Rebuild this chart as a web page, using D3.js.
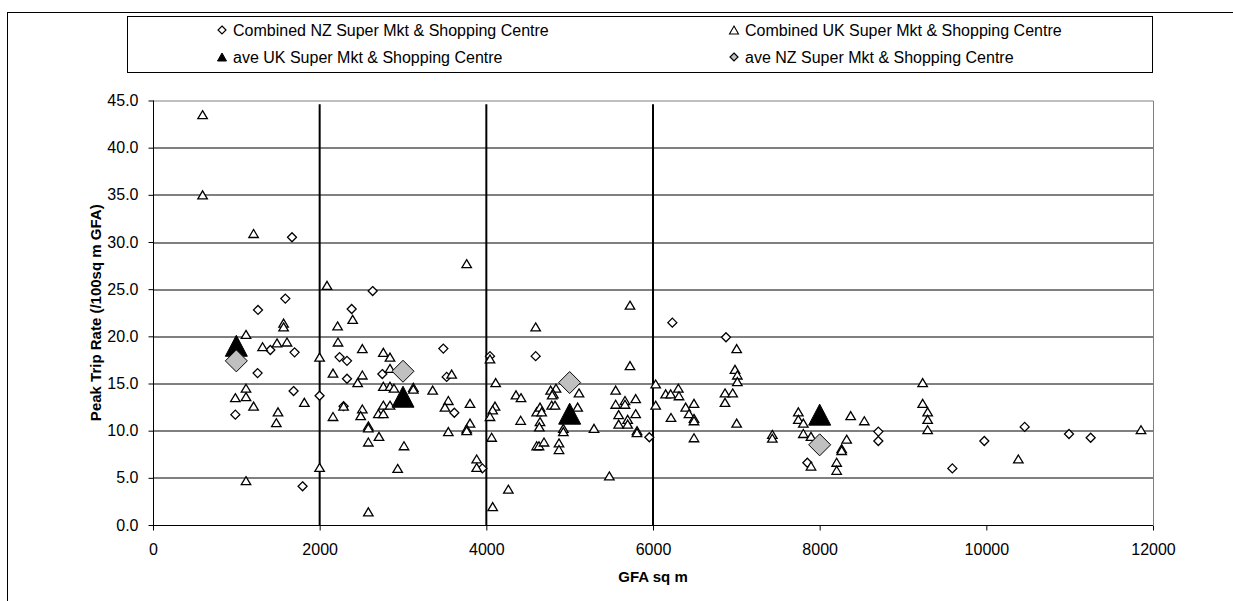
<!DOCTYPE html>
<html>
<head>
<meta charset="utf-8">
<script src="https://cdn.jsdelivr.net/npm/d3@7"></script>
<style>
  body { margin: 0; background: #fff; }
  text { font-family: "Liberation Sans", Arial, sans-serif; }
</style>
</head>
<body>
<div id="chart"></div>
<script>
'use strict'

// combined NZ super mkt & shopping centre (GFA sq m, trips /100sq m)
var nzX = [1668, 1588, 1260, 1408, 1699, 2239, 2328, 1255, 2328, 988, 1687, 1999, 2287, 1795,
  2636, 2384, 3484, 4044, 4592, 2752, 3524, 3616, 3952, 6232, 5956, 6876, 7852, 8704, 8704,
  9592, 9976, 10460, 10992, 11252]
var nzY = [30.5, 24.0, 22.8, 18.55, 18.3, 17.8, 17.4, 16.1, 15.5, 11.7, 14.2, 13.7, 12.6, 4.1,
  24.8, 22.9, 18.7, 17.9, 17.9, 16.0, 15.7, 11.9, 6.0, 21.45, 9.3, 19.9, 6.6, 9.9, 8.9,
  6.0, 8.9, 10.4, 9.65, 9.25]

// combined UK super mkt & shopping centre
var ukX = [595, 595, 1207, 2088, 1567, 1567, 2215, 1116, 1315, 1488, 1608, 1999, 2220, 2160,
  1116, 988, 1116, 1207, 1816, 1500, 1480, 2287, 2160, 1999, 1116,
  3764, 2396, 4592, 2512, 2764, 2844, 4044, 2844, 2512, 2456, 3584, 4112, 2764, 2844, 2892,
  3124, 3124, 3356, 4356, 4416, 2512, 2492, 2764, 2704, 2764, 2844, 3544, 3504, 3804, 4104,
  4076, 4044, 4412, 4604, 2584, 2584, 2584, 2712, 3012, 3544, 3804, 3764, 3764, 4064, 4604,
  2936, 3884, 3884, 4264, 4076, 2584,
  5724, 5724, 4772, 4836, 4804, 4790, 5112, 5552, 6032, 6152, 6212, 6304, 6312, 4784, 4824,
  4644, 4664, 4644, 4636, 5096, 4924, 4924, 5292, 5552, 5664, 5664, 5792, 5588, 5792, 5696,
  5588, 5696, 5808, 5808, 6032, 6216, 6392, 6492, 6432, 6492, 6492, 6492, 4632, 4692, 4872,
  4872, 5476,
  7004, 6984, 7012, 7012, 6864, 6956, 6864, 7004, 7432, 7432, 7744, 7744, 7804, 7804, 7896,
  7896, 8324, 8264, 8264, 8204, 8204, 8372, 8536, 9236, 9236, 9296, 9296, 9296, 10384, 11856]
var ukY = [43.5, 35.0, 30.9, 25.4, 21.4, 21.0, 21.1, 20.2, 18.9, 19.3, 19.4, 17.8, 19.4, 16.1,
  14.5, 13.5, 13.6, 12.6, 13.0, 12.0, 10.85, 12.6, 11.5, 6.1, 4.7,
  27.7, 21.8, 21.0, 18.7, 18.3, 17.8, 17.6, 16.6, 15.9, 15.1, 16.0, 15.1, 14.7, 14.7, 14.5,
  14.6, 14.4, 14.3, 13.8, 13.5, 12.3, 11.6, 12.7, 11.8, 11.8, 12.7, 13.2, 12.5, 12.9, 12.6,
  12.2, 11.5, 11.1, 12.0, 10.5, 10.3, 8.8, 9.4, 8.4, 9.9, 10.8, 10.2, 10.0, 9.3, 8.4,
  6.0, 7.0, 6.1, 3.8, 1.95, 1.4,
  23.3, 16.9, 14.3, 14.5, 13.9, 13.8, 14.0, 14.3, 14.95, 13.9, 13.9, 14.5, 13.7, 12.7, 12.7,
  12.5, 12.0, 10.95, 10.4, 12.5, 10.25, 9.9, 10.25, 12.8, 13.2, 12.8, 13.4, 11.7, 11.8, 11.2,
  10.7, 10.7, 10.0, 9.8, 12.7, 11.4, 12.5, 12.9, 11.8, 11.3, 11.05, 9.25, 8.4, 8.8, 8.7,
  8.0, 5.2,
  18.7, 16.5, 15.9, 15.2, 14.0, 14.0, 13.0, 10.8, 9.6, 9.2, 12.0, 11.2, 10.8, 9.7, 9.4,
  6.25, 9.1, 8.1, 7.9, 6.65, 5.8, 11.6, 11.05, 15.1, 12.9, 12.0, 11.2, 10.1, 7.0, 10.1]

// band averages
var aveUkX = [1000, 3000, 5000, 8000]
var aveUkY = [19.0, 13.6, 11.8, 11.7]
var aveNzX = [1000, 3000, 5000, 8000]
var aveNzY = [17.4, 16.3, 15.1, 8.5]

// GFA band dividers
var dividers = [2000, 4000, 6000]

var xTicks = [0, 2000, 4000, 6000, 8000, 10000, 12000]
var yTicks = [0, 5, 10, 15, 20, 25, 30, 35, 40, 45]

var legendLabels = ['Combined NZ Super Mkt & Shopping Centre', 'Combined UK Super Mkt & Shopping Centre',
  'ave UK Super Mkt & Shopping Centre', 'ave NZ Super Mkt & Shopping Centre']

////////////////////////////////////
//////////// svg setup /////////////
////////////////////////////////////

var svgWidth = 1233
var svgHeight = 601

var margin = { left: 153, right: 80, top: 100.5, bottom: 76 }
const width = svgWidth - margin.left - margin.right
const height = svgHeight - margin.top - margin.bottom

const root = d3.select('#chart').append('svg')
  .attr('width', svgWidth)
  .attr('height', svgHeight)

// outer chart frame
root.append('rect')
  .attr('x', 7.5).attr('y', 12.5)
  .attr('width', 1230).attr('height', 600)
  .attr('fill', 'none').attr('stroke', '#000')

const svg = root.append('g')
  .attr('transform', 'translate(' + margin.left + ',' + margin.top + ')')

////////////////////////////////////
//////////////scales////////////////
////////////////////////////////////

var xScale = d3.scaleLinear().domain([0, 12000]).range([0, width])
var yScale = d3.scaleLinear().domain([0, 45]).range([height, 0])

// gridlines
svg.append('g')
  .selectAll('line')
  .data(yTicks.filter(function(d) { return d > 0 && d < 45 }))
  .enter()
  .append('line')
  .attr('x1', 0).attr('x2', width)
  .attr('y1', function(d) { return Math.round(yScale(d)) + 0.5 })
  .attr('y2', function(d) { return Math.round(yScale(d)) + 0.5 })
  .attr('stroke', '#000')

// plot area border (top / right)
svg.append('path')
  .attr('d', 'M0,' + (Math.round(yScale(45)) + 0.5) + 'H' + (Math.round(width) + 0.5) + 'V' + height)
  .attr('fill', 'none').attr('stroke', '#808080')

// band dividers
svg.append('g')
  .selectAll('line')
  .data(dividers)
  .enter()
  .append('line')
  .attr('x1', function(d) { return xScale(d) })
  .attr('x2', function(d) { return xScale(d) })
  .attr('y1', yScale(0))
  .attr('y2', yScale(44.6))
  .attr('stroke', '#000')
  .attr('stroke-width', 2)

// axes
var yAxis = svg.append('g')
  .attr('transform', 'translate(0.5,0)')
  .call(d3.axisLeft(yScale).tickValues(yTicks).tickSize(5).tickPadding(10)
    .tickFormat(function(d) { return d3.format('.1f')(d) }))
var xAxis = svg.append('g')
  .attr('transform', 'translate(0,' + (height + 0.5) + ')')
  .call(d3.axisBottom(xScale).tickValues(xTicks).tickSize(5).tickPadding(13)
    .tickFormat(function(d) { return d }))

yAxis.selectAll('.domain').attr('d', 'M0,0V' + height).attr('stroke', '#000')
xAxis.selectAll('.domain').attr('d', 'M0,0H' + width).attr('stroke', '#000')
root.selectAll('.tick line').attr('stroke', '#000')
root.selectAll('.tick text').attr('font-size', 16).attr('fill', '#000')
  .attr('font-family', '"Liberation Sans", Arial, sans-serif')

// axis titles
svg.append('text')
  .attr('x', width / 2)
  .attr('y', height + 57)
  .attr('text-anchor', 'middle')
  .attr('font-size', 15).attr('font-weight', 'bold')
  .text('GFA sq m')

svg.append('text')
  .attr('transform', 'translate(' + (-52) + ',' + (height / 2) + ') rotate(-90)')
  .attr('text-anchor', 'middle')
  .attr('font-size', 15).attr('font-weight', 'bold')
  .text('Peak Trip Rate (/100sq m GFA)')

////////////////////////////////////
//////////////markers///////////////
////////////////////////////////////

function tri(w, h) {
  return 'M0,' + (-h / 2) + 'L' + (w / 2) + ',' + (h / 2) + 'L' + (-w / 2) + ',' + (h / 2) + 'Z'
}
function diamond(r) {
  return 'M0,' + (-r) + 'L' + r + ',0L0,' + r + 'L' + (-r) + ',0Z'
}

function plot(xs, ys, d, fill, stroke, sw) {
  svg.append('g')
    .selectAll('path')
    .data(xs.map(function(x, i) { return [x, ys[i]] }))
    .enter()
    .append('path')
    .attr('d', d)
    .attr('transform', function(p) { return 'translate(' + xScale(p[0]) + ',' + yScale(p[1]) + ')' })
    .attr('fill', fill)
    .attr('stroke', stroke)
    .attr('stroke-width', sw)
}

plot(nzX, nzY, diamond(4.5), '#fff', '#000', 1.3)
plot(ukX, ukY, tri(9.5, 8), '#fff', '#000', 1.3)
plot(aveUkX, aveUkY, tri(22, 21), '#000', '#000', 1)
plot(aveNzX, aveNzY, diamond(11), '#c0c0c0', '#000', 1)

////////////////////////////////////
//////////////legend////////////////
////////////////////////////////////

root.append('rect')
  .attr('x', 127.5).attr('y', 16.5)
  .attr('width', 1025).attr('height', 56)
  .attr('fill', '#fff').attr('stroke', '#000')

var legendMarks = [
  { d: diamond(4), fill: '#fff', sw: 1.2 },
  { d: tri(9, 8), fill: '#fff', sw: 1.1 },
  { d: tri(9, 8), fill: '#000', sw: 1 },
  { d: diamond(4), fill: '#c0c0c0', sw: 1.2 }
]

var legend = root.append('g')
  .selectAll('g')
  .data(legendLabels)
  .enter()
  .append('g')
  .attr('transform', function(d, i) {
    return 'translate(' + (222 + (i % 2) * 512) + ',' + (i < 2 ? 30 : 57) + ')'
  })

legend.append('path')
  .attr('d', function(d, i) { return legendMarks[i].d })
  .attr('fill', function(d, i) { return legendMarks[i].fill })
  .attr('stroke', '#000')
  .attr('stroke-width', function(d, i) { return legendMarks[i].sw })

legend.append('text')
  .attr('x', 11)
  .attr('dy', '0.36em')
  .attr('font-size', 16)
  .text(function(d) { return d })
</script>
</body>
</html>
